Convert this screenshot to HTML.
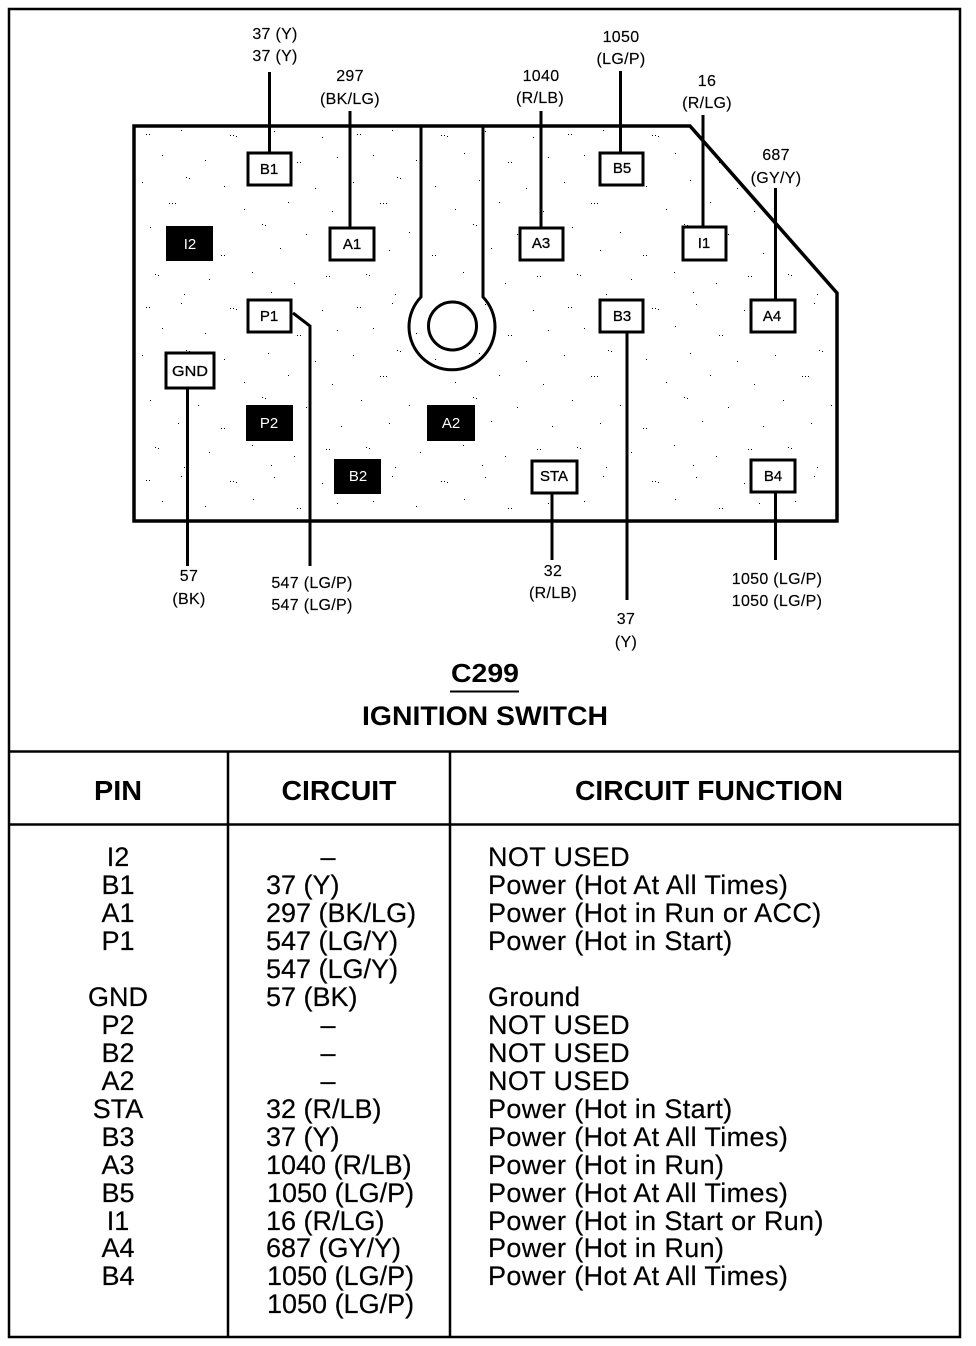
<!DOCTYPE html>
<html lang="en">
<head>
<meta charset="utf-8">
<title>C299 Ignition Switch</title>
<style>
html,body{margin:0;padding:0;background:#fff}
svg{display:block}
text{font-family:"Liberation Sans",sans-serif;fill:#000}
.s{font-size:16px;letter-spacing:.3px;text-anchor:middle;stroke:#000;stroke-width:.15px}
.b{font-size:15px;text-anchor:middle;stroke:#000;stroke-width:.3px}
.w{fill:#fff;stroke:none}
.t{font-size:27px;stroke:#000;stroke-width:.2px}
.f{letter-spacing:.38px}
.c{text-anchor:middle}
.h{font-size:28px;font-weight:bold;text-anchor:middle}
.l{stroke:#000;fill:none}
</style>
</head>
<body>
<svg width="976" height="1346" viewBox="0 0 976 1346" xmlns="http://www.w3.org/2000/svg">
<defs>
<pattern id="st" width="211" height="173" patternUnits="userSpaceOnUse" x="134" y="126">
<path fill="#000" d="M12 8h1v1h-1zM15 8h1v1h-1zM47 4h1v1h-1zM96 9h1v1h-1zM99 9h1v1h-1zM102 10h1v1h-1zM140 5h1v1h-1zM188 11h1v1h-1zM28 29h1v1h-1zM71 34h1v1h-1zM119 27h1v1h-1zM163 36h1v1h-1zM166 36h1v1h-1zM203 31h1v1h-1zM8 56h1v1H8zM52 51h1v1h-1zM55 52h1v1h-1zM90 60h1v1h-1zM134 54h1v1h-1zM181 62h1v1h-1zM35 77h1v1h-1zM38 77h1v1h-1zM41 77h1v1h-1zM110 83h1v1h-1zM154 76h1v1h-1zM198 85h1v1h-1zM16 101h1v1h-1zM64 106h1v1h-1zM128 98h1v1h-1zM131 99h1v1h-1zM172 108h1v1h-1zM44 124h1v1h-1zM87 129h1v1h-1zM90 129h1v1h-1zM146 122h1v1h-1zM207 127h1v1h-1zM21 148h1v1h-1zM24 149h1v1h-1zM75 153h1v1h-1zM118 146h1v1h-1zM160 157h1v1h-1zM192 150h1v1h-1zM195 150h1v1h-1zM50 168h1v1h-1zM137 166h1v1h-1z"/>
</pattern>
</defs>

<rect x="0" y="0" width="976" height="1346" fill="#fff"/>
<!-- outer frame -->
<rect x="9" y="9" width="951" height="1328" class="l" stroke-width="2.5"/>

<!-- connector body -->
<path d="M134 126H690L837 293V521H134Z" fill="url(#st)"/>
<path d="M134 126H690L837 293V521H134Z" class="l" stroke-width="3.5"/>

<!-- key slot -->
<path d="M421 127V297A43 43 0 1 0 483 297V127" class="l" stroke-width="3"/>
<circle cx="452.500" cy="326" r="24" fill="#fff" stroke="#000" stroke-width="3"/>

<!-- wires -->
<g class="l" stroke-width="3">
<path d="M269.500 72V152"/>
<path d="M350 111V227"/>
<path d="M541 111V227"/>
<path d="M620.500 71V152"/>
<path d="M703 115V227"/>
<path d="M775.500 188V299"/>
<path d="M293 313L310 326V566"/>
<path d="M187.500 389V566"/>
<path d="M552 493V560"/>
<path d="M627 332V600"/>
<path d="M775.500 493V560"/>
</g>

<!-- open pins -->
<g fill="#fff" stroke="#000" stroke-width="3">
<rect x="248" y="153" width="43" height="32"/>
<rect x="330" y="228" width="44" height="32"/>
<rect x="248" y="300" width="43" height="32"/>
<rect x="166" y="353" width="48" height="35"/>
<rect x="600" y="153" width="43" height="32"/>
<rect x="520" y="228" width="43" height="32"/>
<rect x="683" y="227" width="43" height="33"/>
<rect x="600" y="300" width="43" height="32"/>
<rect x="751" y="300" width="44" height="32"/>
<rect x="532" y="461" width="45" height="32"/>
<rect x="751" y="460" width="44" height="32"/>
</g>
<!-- filled pins -->
<g fill="#000">
<rect x="166" y="226" width="47" height="35"/>
<rect x="246" y="405" width="47" height="36"/>
<rect x="427" y="405" width="48" height="36"/>
<rect x="334" y="459" width="47" height="35"/>
</g>

<!-- pin labels -->
<text class="b" x="269" y="174">B1</text>
<text class="b" x="352" y="249">A1</text>
<text class="b" x="269" y="321">P1</text>
<text class="b" x="190" y="376" textLength="36" lengthAdjust="spacingAndGlyphs">GND</text>
<text class="b" x="622" y="173">B5</text>
<text class="b" x="541" y="248">A3</text>
<text class="b" x="704" y="248">I1</text>
<text class="b" x="622" y="321">B3</text>
<text class="b" x="772" y="321">A4</text>
<text class="b" x="554" y="481">STA</text>
<text class="b" x="773" y="481">B4</text>
<text class="b w" x="190" y="249">I2</text>
<text class="b w" x="269" y="428">P2</text>
<text class="b w" x="451" y="428">A2</text>
<text class="b w" x="358" y="481">B2</text>

<!-- wire labels -->
<text class="s" x="275" y="39">37 (Y)</text>
<text class="s" x="275" y="61">37 (Y)</text>
<text class="s" x="350" y="81">297</text>
<text class="s" x="350" y="104">(BK/LG)</text>
<text class="s" x="541" y="81">1040</text>
<text class="s" x="540" y="103">(R/LB)</text>
<text class="s" x="621" y="42">1050</text>
<text class="s" x="621" y="64">(LG/P)</text>
<text class="s" x="707" y="86">16</text>
<text class="s" x="707" y="108">(R/LG)</text>
<text class="s" x="776" y="160">687</text>
<text class="s" x="776" y="183">(GY/Y)</text>
<text class="s" x="189" y="581">57</text>
<text class="s" x="189" y="604">(BK)</text>
<text class="s" x="312" y="588">547 (LG/P)</text>
<text class="s" x="312" y="610">547 (LG/P)</text>
<text class="s" x="553" y="576">32</text>
<text class="s" x="553" y="598">(R/LB)</text>
<text class="s" x="626" y="624">37</text>
<text class="s" x="626" y="647">(Y)</text>
<text class="s" x="777" y="584">1050 (LG/P)</text>
<text class="s" x="777" y="606">1050 (LG/P)</text>

<!-- title -->
<text x="485" y="682" font-size="26" font-weight="bold" text-anchor="middle" textLength="68" lengthAdjust="spacingAndGlyphs">C299</text>
<path d="M450 691.500H519" class="l" stroke-width="2"/>
<text x="485" y="725" font-size="27" font-weight="bold" text-anchor="middle" textLength="246" lengthAdjust="spacingAndGlyphs">IGNITION SWITCH</text>

<!-- table rules -->
<g class="l" stroke-width="2.500">
<path d="M9 751.500H960"/>
<path d="M9 824.500H960"/>
<path d="M228 751V1337"/>
<path d="M450 751V1337"/>
</g>

<!-- headers -->
<text class="h" x="118" y="800" textLength="48" lengthAdjust="spacingAndGlyphs">PIN</text>
<text class="h" x="339" y="800" textLength="115" lengthAdjust="spacingAndGlyphs">CIRCUIT</text>
<text class="h" x="709" y="800" textLength="268" lengthAdjust="spacingAndGlyphs">CIRCUIT FUNCTION</text>

<!-- PIN column -->
<text class="t c" x="118" y="866">I2</text>
<text class="t c" x="118" y="894">B1</text>
<text class="t c" x="118" y="922">A1</text>
<text class="t c" x="118" y="950">P1</text>
<text class="t c" x="118" y="1006">GND</text>
<text class="t c" x="118" y="1034">P2</text>
<text class="t c" x="118" y="1062">B2</text>
<text class="t c" x="118" y="1090">A2</text>
<text class="t c" x="118" y="1118">STA</text>
<text class="t c" x="118" y="1146">B3</text>
<text class="t c" x="118" y="1174">A3</text>
<text class="t c" x="118" y="1202">B5</text>
<text class="t c" x="118" y="1230">I1</text>
<text class="t c" x="118" y="1257">A4</text>
<text class="t c" x="118" y="1285">B4</text>

<!-- CIRCUIT column -->
<text class="t c" x="328" y="866">–</text>
<text class="t" x="266" y="894">37 (Y)</text>
<text class="t" x="266" y="922">297 (BK/LG)</text>
<text class="t" x="266" y="950">547 (LG/Y)</text>
<text class="t" x="266" y="978">547 (LG/Y)</text>
<text class="t" x="266" y="1006">57 (BK)</text>
<text class="t c" x="328" y="1034">–</text>
<text class="t c" x="328" y="1062">–</text>
<text class="t c" x="328" y="1090">–</text>
<text class="t" x="266" y="1118">32 (R/LB)</text>
<text class="t" x="266" y="1146">37 (Y)</text>
<text class="t" x="266" y="1174">1040 (R/LB)</text>
<text class="t" x="267" y="1202">1050 (LG/P)</text>
<text class="t" x="266" y="1230">16 (R/LG)</text>
<text class="t" x="266" y="1257">687 (GY/Y)</text>
<text class="t" x="267" y="1285">1050 (LG/P)</text>
<text class="t" x="267" y="1313">1050 (LG/P)</text>

<!-- FUNCTION column -->
<text class="t f" x="488" y="866">NOT USED</text>
<text class="t f" x="488" y="894">Power (Hot At All Times)</text>
<text class="t f" x="488" y="922">Power (Hot in Run or ACC)</text>
<text class="t f" x="488" y="950">Power (Hot in Start)</text>
<text class="t f" x="488" y="1006">Ground</text>
<text class="t f" x="488" y="1034">NOT USED</text>
<text class="t f" x="488" y="1062">NOT USED</text>
<text class="t f" x="488" y="1090">NOT USED</text>
<text class="t f" x="488" y="1118">Power (Hot in Start)</text>
<text class="t f" x="488" y="1146">Power (Hot At All Times)</text>
<text class="t f" x="488" y="1174">Power (Hot in Run)</text>
<text class="t f" x="488" y="1202">Power (Hot At All Times)</text>
<text class="t f" x="488" y="1230">Power (Hot in Start or Run)</text>
<text class="t f" x="488" y="1257">Power (Hot in Run)</text>
<text class="t f" x="488" y="1285">Power (Hot At All Times)</text>
</svg>
</body>
</html>
